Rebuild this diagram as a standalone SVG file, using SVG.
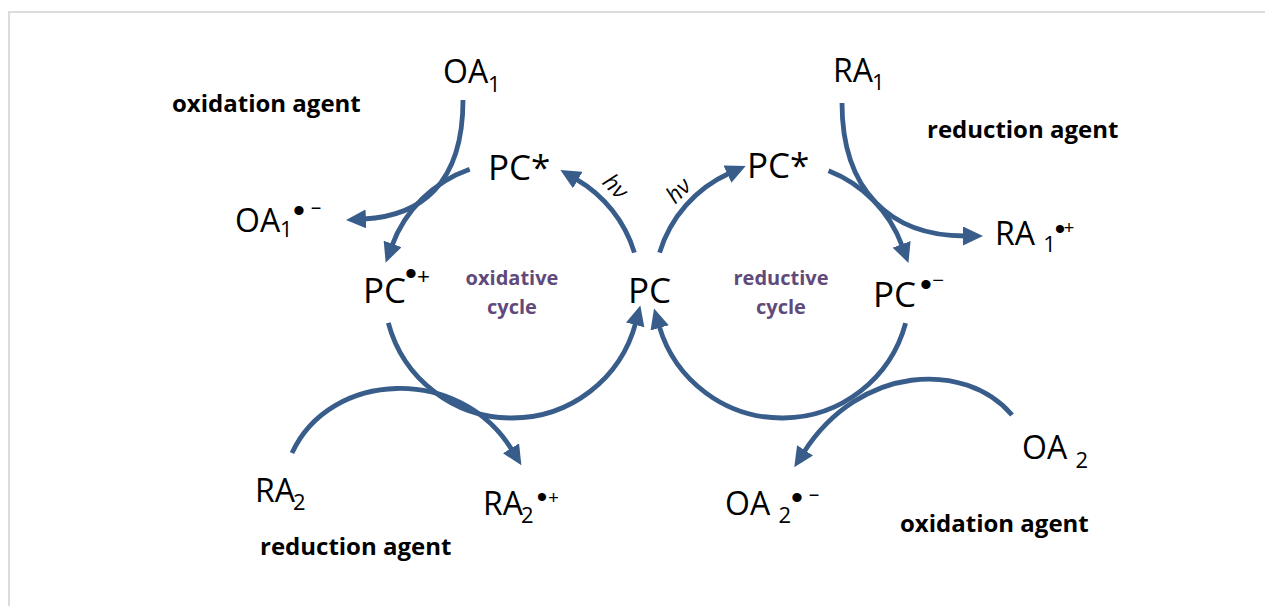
<svg xmlns="http://www.w3.org/2000/svg" width="1265" height="606" viewBox="0 0 1265 606">
<style>
  .bg{fill:#ffffff}
  .frame{stroke:#dcdcdc;stroke-width:2;fill:none}
  .arc{fill:none;stroke:#385D8A;stroke-width:4.8;marker-end:url(#ah)}
  .sp{font-family:"Open Sans","Noto Sans",sans-serif;font-size:32px;fill:#000}
  .pc{font-family:"Open Sans","Noto Sans",sans-serif;font-size:35px;fill:#000}
  .sub{font-size:22px}
  .dot{font-family:"Liberation Sans",Arial,sans-serif;font-size:34px;fill:#000;text-anchor:middle}
  .sgn{font-family:"Liberation Sans",Arial,sans-serif;font-size:22px;fill:#000;text-anchor:middle}
  .agent{font-family:"Open Sans","Noto Sans",sans-serif;font-size:24px;font-weight:bold;fill:#000}
  .cyc{font-family:"Open Sans","Noto Sans",sans-serif;font-size:20px;font-weight:bold;fill:#604A7B;text-anchor:middle}
  .hv{font-family:"Open Sans","Noto Sans",sans-serif;font-size:23px;font-style:italic;fill:#000;text-anchor:middle}
</style>
<defs>
  <marker id="ah" markerUnits="userSpaceOnUse" markerWidth="21" markerHeight="19" viewBox="0 0 21 19" refX="2" refY="9.5" orient="auto">
    <path d="M0,0 L20,9.5 L0,19 z" fill="#385D8A"/>
  </marker>
</defs>
<rect class="bg" x="0" y="0" width="1265" height="606"/>
<path class="frame" d="M9,606 L9,12 L1265,12"/>

<g id="connectors">
  <path class="arc" d="M634.4,252.6 A128,128 0 0 0 576,179.1"/>
  <path class="arc" d="M469.7,169.2 A128,128 0 0 0 391.9,245.8"/>
  <path class="arc" d="M388.3,322.9 A128,128 0 0 0 635.7,322.9"/>
  <path class="arc" d="M659.6,252.6 A128,128 0 0 1 729.3,173.3"/>
  <path class="arc" d="M828.5,170.7 A128,128 0 0 1 902.3,246.2"/>
  <path class="arc" d="M905.6,323.1 A128,128 0 0 1 659.1,325.9"/>
  <path class="arc" d="M463,100 C463,185 420,216 364,219"/>
  <path class="arc" d="M842,103 C842,190 890,236 965,236"/>
  <path class="arc" d="M292,453 C330,370 460,365 512,450"/>
  <path class="arc" d="M1012,415 C965,360 860,365 804,452"/>
</g>

<g id="hv-left"><text class="hv" transform="translate(610,192) rotate(45)">hν</text></g>
<g id="hv-right"><text class="hv" transform="translate(684,196) rotate(-45)">hν</text></g>

<g id="oxidation-agent-1"><text class="agent" x="172" y="112">oxidation agent</text></g>
<g id="OA1"><text class="sp" x="443" y="83">OA<tspan class="sub" x="488" y="92">1</tspan></text></g>
<g id="OA1-rad">
  <text class="sp" x="235" y="232">OA<tspan class="sub" x="280" y="237">1</tspan></text>
  <text class="dot" x="299" y="221.5">•</text>
  <text class="sgn" x="316" y="214" style="font-size:18px">−</text>
</g>
<g id="PCstar-left"><text class="pc" x="488" y="180">PC*</text></g>
<g id="PC-cation">
  <text class="pc" x="363" y="303">PC</text>
  <text class="dot" x="411" y="285">•</text>
  <text class="sgn" x="423.5" y="283.5">+</text>
</g>
<g id="oxidative-cycle">
  <text class="cyc" x="512" y="285">oxidative</text>
  <text class="cyc" x="512" y="314">cycle</text>
</g>
<g id="PC"><text class="pc" x="628" y="303">PC</text></g>
<g id="RA2"><text class="sp" x="255" y="502">RA<tspan class="sub" x="293" y="510">2</tspan></text></g>
<g id="RA2-rad">
  <text class="sp" x="483" y="515">RA<tspan class="sub" x="521" y="523">2</tspan></text>
  <text class="dot" x="542" y="507" style="font-size:30px">•</text>
  <text class="sgn" x="553.5" y="503.5" style="font-size:18px">+</text>
</g>
<g id="reduction-agent-2"><text class="agent" x="260" y="555">reduction agent</text></g>

<g id="RA1"><text class="sp" x="833" y="82">RA<tspan class="sub" x="872" y="90">1</tspan></text></g>
<g id="reduction-agent-1"><text class="agent" x="927" y="138">reduction agent</text></g>
<g id="PCstar-right"><text class="pc" x="747" y="178">PC*</text></g>
<g id="RA1-rad">
  <text class="sp" x="995" y="245">RA <tspan class="sub" y="252">1</tspan></text>
  <text class="dot" x="1060" y="238.5" style="font-size:30px">•</text>
  <text class="sgn" x="1069" y="233.5" style="font-size:18px">+</text>
</g>
<g id="PC-anion">
  <text class="pc" x="873" y="307">PC</text>
  <text class="dot" x="926" y="295.5">•</text>
  <text class="sgn" x="938" y="287" style="font-size:20px">−</text>
</g>
<g id="reductive-cycle">
  <text class="cyc" x="781" y="285">reductive</text>
  <text class="cyc" x="781" y="314">cycle</text>
</g>
<g id="OA2"><text class="sp" x="1022" y="459">OA <tspan class="sub" y="468">2</tspan></text></g>
<g id="OA2-rad">
  <text class="sp" x="725" y="515">OA <tspan class="sub" y="523">2</tspan></text>
  <text class="dot" x="797" y="508.5">•</text>
  <text class="sgn" x="814" y="501" style="font-size:18px">−</text>
</g>
<g id="oxidation-agent-2"><text class="agent" x="900" y="532">oxidation agent</text></g>
</svg>
